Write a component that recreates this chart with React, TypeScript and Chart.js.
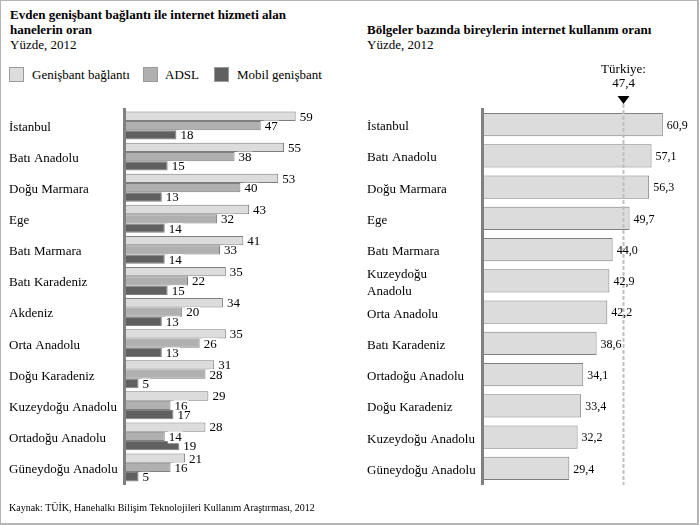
import React, { useEffect, useRef } from "react";
import { Chart, registerables } from "chart.js";

Chart.register(...registerables);

const FONT = "'Liberation Serif', 'Times New Roman', serif";

const leftCategories = [
  "İstanbul",
  "Batı Anadolu",
  "Doğu Marmara",
  "Ege",
  "Batı Marmara",
  "Batı Karadeniz",
  "Akdeniz",
  "Orta Anadolu",
  "Doğu Karadeniz",
  "Kuzeydoğu Anadolu",
  "Ortadoğu Anadolu",
  "Güneydoğu Anadolu",
];
const genisbant = [59, 55, 53, 43, 41, 35, 34, 35, 31, 29, 28, 21];
const adsl = [47, 38, 40, 32, 33, 22, 20, 26, 28, 16, 14, 16];
const mobil = [18, 15, 13, 14, 14, 15, 13, 13, 5, 17, 19, 5];
const leftSeriesNames = ["Genişbant bağlantı", "ADSL", "Mobil genişbant"];

const rightCategories: (string | string[])[] = [
  "İstanbul",
  "Batı Anadolu",
  "Doğu Marmara",
  "Ege",
  "Batı Marmara",
  ["Kuzeydoğu", "Anadolu"],
  "Orta Anadolu",
  "Batı Karadeniz",
  "Ortadoğu Anadolu",
  "Doğu Karadeniz",
  "Kuzeydoğu Anadolu",
  "Güneydoğu Anadolu",
];
const kullanim = [60.9, 57.1, 56.3, 49.7, 44.0, 42.9, 42.2, 38.6, 34.1, 33.4, 32.2, 29.4];
const turkiye = 47.4;

const LIGHT = "#dcdcdc";
const MID = "#b0b0b0";
const DARK = "#606060";
const EDGE = "#7f7f7f";

const fmt = (v: number) => v.toFixed(1).replace(".", ",");

function axisLinePlugin(id: string) {
  return {
    id,
    beforeDraw(chart: any) {
      // nudge category labels down slightly to match the reference baseline
      const ys = chart.scales.y;
      if (ys && !ys.__nudged) {
        const items = ys.getLabelItems(chart.chartArea);
        items.forEach((it: any) => {
          it.options.translation[1] += 2;
        });
        ys.__nudged = true;
      }
    },
    afterDatasetsDraw(chart: any) {
      const { ctx, chartArea } = chart;
      ctx.save();
      ctx.fillStyle = "#808080";
      ctx.fillRect(chartArea.left - 1, 108, 3, 377);
      ctx.restore();
    },
  };
}

const leftLabelsPlugin = {
  id: "leftLabels",
  afterDatasetsDraw(chart: any) {
    const { ctx } = chart;
    ctx.save();
    ctx.font = `13px ${FONT}`;
    ctx.textBaseline = "middle";
    ctx.textAlign = "left";
    chart.data.datasets.forEach((ds: any, i: number) => {
      const meta = chart.getDatasetMeta(i);
      meta.data.forEach((bar: any, j: number) => {
        const txt = String(ds.data[j]);
        const x = bar.x + 4;
        const y = bar.y + 1;
        const w = ctx.measureText(txt).width;
        ctx.fillStyle = "#ffffff";
        ctx.fillRect(x - 1, y - 6, w + 2, 12);
        ctx.fillStyle = "#000000";
        ctx.fillText(txt, x, y);
      });
    });
    ctx.restore();
  },
};

const rightExtrasPlugin = {
  id: "rightExtras",
  afterDatasetsDraw(chart: any) {
    const { ctx, scales } = chart;
    const xs = scales.x;
    const px = Math.round(xs.getPixelForValue(turkiye)) + 0.5;
    ctx.save();
    ctx.strokeStyle = "#c0c0c0";
    ctx.lineWidth = 2;
    ctx.setLineDash([4, 2]);
    ctx.beginPath();
    ctx.moveTo(px, 104);
    ctx.lineTo(px, 485);
    ctx.stroke();
    ctx.setLineDash([]);
    ctx.fillStyle = "#000000";
    ctx.beginPath();
    ctx.moveTo(px - 6, 96);
    ctx.lineTo(px + 6, 96);
    ctx.lineTo(px, 104);
    ctx.closePath();
    ctx.fill();
    ctx.font = `13px ${FONT}`;
    ctx.textAlign = "center";
    ctx.textBaseline = "middle";
    ctx.fillText("Türkiye:", px, 70);
    ctx.fillText(fmt(turkiye), px, 84);
    ctx.font = `12px ${FONT}`;
    ctx.textAlign = "left";
    const meta = chart.getDatasetMeta(0);
    meta.data.forEach((bar: any, j: number) => {
      ctx.fillText(fmt(kullanim[j]), bar.x + 4, bar.y + 1);
    });
    ctx.restore();
  },
};

function LeftChart() {
  const ref = useRef<HTMLCanvasElement>(null);
  useEffect(() => {
    if (!ref.current) return;
    const chart = new Chart(ref.current, {
      type: "bar",
      data: {
        labels: leftCategories,
        datasets: [
          { label: leftSeriesNames[0], data: genisbant, backgroundColor: LIGHT, borderColor: EDGE, borderWidth: 1 },
          { label: leftSeriesNames[1], data: adsl, backgroundColor: MID, borderColor: EDGE, borderWidth: 1 },
          { label: leftSeriesNames[2], data: mobil, backgroundColor: DARK, borderColor: EDGE, borderWidth: 1 },
        ],
      },
      options: {
        indexAxis: "y",
        responsive: false,
        animation: false,
        devicePixelRatio: 1,
        events: [],
        layout: { padding: { left: 9, right: 11.5, top: 110, bottom: 42 } },
        datasets: { bar: { categoryPercentage: 0.9, barPercentage: 1.0 } },
        plugins: { legend: { display: false }, tooltip: { enabled: false }, title: { display: false } },
        scales: {
          x: { display: false, min: 0, max: 72 },
          y: {
            grid: { display: false },
            border: { display: false },
            ticks: {
              autoSkip: false,
              crossAlign: "far",
              color: "#000",
              font: { family: FONT, size: 13 },
            },
            afterFit(scale: any) {
              scale.width = 115;
            },
          },
        },
      } as any,
      plugins: [axisLinePlugin("leftAxis"), leftLabelsPlugin],
    });
    return () => chart.destroy();
  }, []);
  return (
    <canvas
      ref={ref}
      width={345}
      height={525}
      style={{ position: "absolute", left: 0, top: 0, width: 345, height: 525 }}
    />
  );
}

function RightChart() {
  const ref = useRef<HTMLCanvasElement>(null);
  useEffect(() => {
    if (!ref.current) return;
    const chart = new Chart(ref.current, {
      type: "bar",
      data: {
        labels: rightCategories as any,
        datasets: [
          {
            label: "İnternet kullanım oranı",
            data: kullanim,
            backgroundColor: LIGHT,
            borderColor: EDGE,
            borderWidth: 1,
          },
        ],
      },
      options: {
        indexAxis: "y",
        responsive: false,
        animation: false,
        devicePixelRatio: 1,
        events: [],
        layout: { padding: { left: 17, right: 24, top: 109, bottom: 41 } },
        datasets: { bar: { categoryPercentage: 1.0, barPercentage: 0.74 } },
        plugins: { legend: { display: false }, tooltip: { enabled: false }, title: { display: false } },
        scales: {
          x: { display: false, min: 0, max: 65 },
          y: {
            grid: { display: false },
            border: { display: false },
            ticks: {
              autoSkip: false,
              crossAlign: "far",
              color: "#000",
              font: { family: FONT, size: 13, lineHeight: 1.3 },
            },
            afterFit(scale: any) {
              scale.width = 115;
            },
          },
        },
      } as any,
      plugins: [axisLinePlugin("rightAxis"), rightExtrasPlugin],
    });
    return () => chart.destroy();
  }, []);
  return (
    <canvas
      ref={ref}
      width={349}
      height={525}
      style={{ position: "absolute", left: 350, top: 0, width: 349, height: 525 }}
    />
  );
}

const legendColors = [LIGHT, MID, DARK];
const legendBoxX = [9, 143, 214];
const legendTextX = [32, 165, 237];

export default function App() {
  const txt: React.CSSProperties = {
    position: "absolute",
    fontFamily: FONT,
    fontSize: 13,
    lineHeight: "15px",
    color: "#000",
    whiteSpace: "nowrap",
    margin: 0,
  };
  return (
    <div
      style={{
        position: "absolute",
        left: 0,
        top: 0,
        width: 699,
        height: 525,
        background: "#fff",
        overflow: "hidden",
      }}
    >
      <div style={{ ...txt, left: 10, top: 7 }}>
        <b>Evden genişbant bağlantı ile internet hizmeti alan</b>
        <br />
        <b>hanelerin oran</b>
        <br />
        Yüzde, 2012
      </div>
      <div style={{ ...txt, left: 367, top: 22 }}>
        <b>Bölgeler bazında bireylerin internet kullanım oranı</b>
        <br />
        Yüzde, 2012
      </div>
      {leftSeriesNames.map((name, i) => (
        <React.Fragment key={name}>
          <div
            style={{
              position: "absolute",
              left: legendBoxX[i],
              top: 67,
              width: 15,
              height: 15,
              boxSizing: "border-box",
              border: "1px solid #9a9a9a",
              background: legendColors[i],
            }}
          />
          <div style={{ ...txt, left: legendTextX[i], top: 67 }}>{name}</div>
        </React.Fragment>
      ))}
      <LeftChart />
      <RightChart />
      <div style={{ ...txt, left: 9, top: 501, fontSize: 10, lineHeight: "14px" }}>
        Kaynak: TÜİK, Hanehalkı Bilişim Teknolojileri Kullanım Araştırması, 2012
      </div>
      <div
        style={{
          position: "absolute",
          left: 0,
          top: 0,
          width: 699,
          height: 525,
          boxSizing: "border-box",
          borderTop: "1px solid #b4b4b4",
          borderLeft: "1px solid #b4b4b4",
          borderRight: "2px solid #b4b4b4",
          borderBottom: "2px solid #b4b4b4",
          pointerEvents: "none",
        }}
      />
    </div>
  );
}
